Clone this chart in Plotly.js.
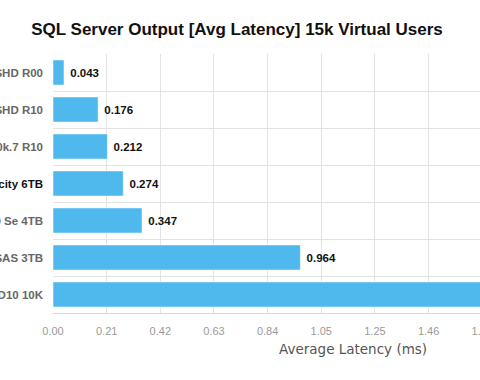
<!DOCTYPE html>
<html>
<head>
<meta charset="utf-8">
<script src="https://cdn.plot.ly/plotly-3.0.1.min.js"></script>
<style>
html,body{margin:0;padding:0;overflow:hidden;background:#fff;width:480px;height:380px;}
#chart{position:absolute;left:0;top:0;width:500px;height:380px;}
</style>
</head>
<body>
<div id="chart"></div>
<script>
// Data (top to bottom)
const categories = [
  "Seagate Turbo SSHD R00",
  "Seagate Turbo SSHD R10",
  "Seagate Savvio 10k.7 R10",
  "Seagate Enterprise Capacity 6TB",
  "WD WD4000F9 Se 4TB",
  "Seagate Constellation SAS 3TB",
  "HDD RAID10 10K"
];
const latency = [0.043, 0.176, 0.212, 0.274, 0.347, 0.964, 1.673];
const tickValues = [0, 0.2091, 0.4182, 0.6273, 0.8364, 1.0455, 1.2546, 1.4637, 1.6728];
const tickLabels = ["0.00", "0.21", "0.42", "0.63", "0.84", "1.05", "1.25", "1.46", "1.67"];
const highlightIndex = 3;

const yTickText = categories.map((c, i) =>
  i === highlightIndex ? '<span style="color:#111">' + c + '</span>' : c);

const trace = {
  type: 'bar',
  orientation: 'h',
  x: latency,
  y: categories,
  marker: {color: '#4fb9ee', line: {color: 'rgba(255,255,255,0.55)', width: 1}},
  text: latency.map(v => '\u00a0' + v.toFixed(3)),
  textposition: 'outside',
  textfont: {family: 'Liberation Sans, Arial, sans-serif', size: 11.5, color: '#111', weight: 'bold'},
  cliponaxis: true,
  hoverinfo: 'x+y'
};

const layout = {
  width: 500,
  height: 380,
  margin: {l: 53, r: 10, t: 54, b: 67},
  paper_bgcolor: '#fff',
  plot_bgcolor: '#fff',
  showlegend: false,
  bargap: 0.32,
  title: {
    text: 'SQL Server Output [Avg Latency] 15k Virtual Users',
    font: {family: 'Liberation Sans, Arial, sans-serif', size: 17, color: '#111', weight: 'bold'},
    xref: 'container', x: 237/500, xanchor: 'center',
    yref: 'container', y: 1 - 29/380, yanchor: 'middle'
  },
  xaxis: {
    range: [0, 437/256.6],
    tickvals: tickValues,
    ticktext: tickLabels,
    showgrid: true,
    gridcolor: '#e3e3e3',
    gridwidth: 1,
    zeroline: false,
    showline: true,
    linecolor: '#d8d8d8',
    linewidth: 1,
    ticks: '',
    ticklabelstandoff: 8,
    tickfont: {family: 'Liberation Sans, Arial, sans-serif', size: 11, color: '#9a9a9a'},
    fixedrange: true
  },
  yaxis: {
    type: 'category',
    autorange: 'reversed',
    tickvals: categories,
    ticktext: yTickText,
    tickson: 'boundaries',
    showgrid: true,
    gridcolor: '#e3e3e3',
    gridwidth: 1,
    zeroline: false,
    showline: false,
    ticks: '',
    ticklabelstandoff: 9,
    tickfont: {family: 'Liberation Sans, Arial, sans-serif', size: 11.5, color: '#666', weight: 'bold'},
    automargin: false,
    fixedrange: true
  },
  annotations: [{
    text: 'Average Latency (ms)',
    xref: 'paper', yref: 'paper',
    x: (352.5 - 53) / 437, y: -(349 - 313) / 259,
    xanchor: 'center', yanchor: 'middle',
    showarrow: false,
    font: {family: 'DejaVu Sans, sans-serif', size: 13.5, color: '#555'}
  }]
};

Plotly.newPlot('chart', [trace], layout, {displayModeBar: false, staticPlot: true});
</script>
</body>
</html>
